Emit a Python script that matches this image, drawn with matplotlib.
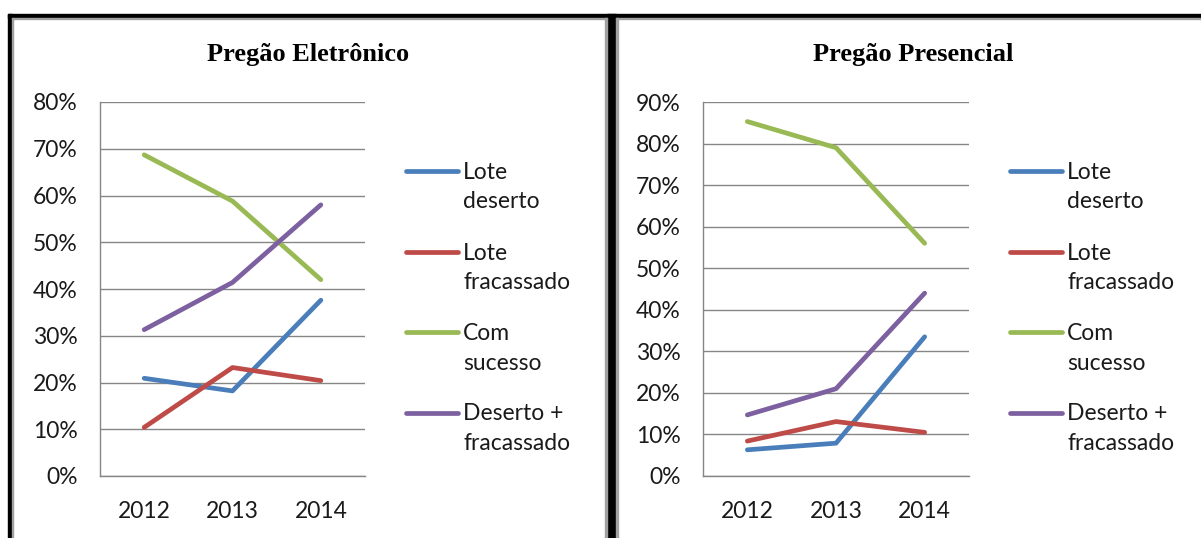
import numpy as np
import matplotlib.pyplot as plt
from matplotlib.patches import Rectangle
from matplotlib.ticker import FuncFormatter, MultipleLocator


years = ['2012', '2013', '2014']
series_names = ['Lote\ndeserto', 'Lote\nfracassado', 'Com\nsucesso', 'Deserto +\nfracassado']
colors = ['#4A7EBB', '#BE4B48', '#98B954', '#7D60A0']

# Pregao Eletronico (fractions)
ele_deserto = [0.209, 0.182, 0.376]
ele_fracassado = [0.104, 0.232, 0.204]
ele_sucesso = [0.687, 0.588, 0.420]
ele_soma = [0.313, 0.414, 0.580]

# Pregao Presencial
pre_deserto = [0.063, 0.079, 0.335]
pre_fracassado = [0.084, 0.131, 0.105]
pre_sucesso = [0.853, 0.790, 0.560]
pre_soma = [0.147, 0.210, 0.440]

W, H = 1201, 538
fig = plt.figure(figsize=(W/100, H/100), dpi=100)

tick_font = 'Lato'
fs = 16.5
grid_col = '#868686'


def fx(px):
    return px / W


def fy(py):
    return 1 - py / H


def panel(x0, x1, title, title_x, ymax, data, leg_x):
    ax = fig.add_axes([fx(x0), fy(476), fx(x1 - x0), fy(102) - fy(476)])
    xs = np.arange(len(years))
    for vals, c in zip(data, colors):
        ax.plot(xs, vals, color=c, lw=3.4, solid_capstyle='round', solid_joinstyle='round')
    ax.set_xlim(-0.5, len(years) - 0.5)
    ax.set_ylim(0, ymax)
    ax.yaxis.set_major_locator(MultipleLocator(0.1))
    ax.yaxis.set_major_formatter(FuncFormatter(lambda v, p: '%d%%' % round(v * 100)))
    ax.set_xticks(xs)
    ax.set_xticklabels(years)
    ax.grid(axis='y', color=grid_col, lw=1.0)
    ax.set_axisbelow(True)
    for s in ['top', 'right']:
        ax.spines[s].set_visible(False)
    for s in ['left', 'bottom']:
        ax.spines[s].set_color(grid_col)
        ax.spines[s].set_linewidth(1.0)
    ax.tick_params(axis='both', length=0, labelsize=fs, colors='#000000')
    ax.tick_params(axis='y', pad=16)
    ax.tick_params(axis='x', pad=18)
    for lab in ax.get_xticklabels() + ax.get_yticklabels():
        lab.set_fontfamily(tick_font)
        lab.set_color('#1a1a1a')
    fig.text(fx(title_x), fy(55), title, ha='center', va='center',
             fontsize=19, fontweight='bold', family='Liberation Serif')
    # legend, handle level with the first text line
    for i, (name, c) in enumerate(zip(series_names, colors)):
        ytop = 171 + i * 80.5
        fig.add_artist(plt.Line2D([fx(leg_x), fx(leg_x + 52)], [fy(ytop), fy(ytop)],
                                  color=c, lw=3.4, solid_capstyle='round'))
        fig.text(fx(leg_x + 57), fy(ytop - 9), name, ha='left', va='top',
                 fontsize=fs, family=tick_font, color='#1a1a1a', linespacing=1.5)
    return ax


ax1 = panel(100, 365, 'Pregão Eletrônico', 308,
            0.8, [ele_deserto, ele_fracassado, ele_sucesso, ele_soma], 406)
ax2 = panel(703, 969, 'Pregão Presencial', 913,
            0.9, [pre_deserto, pre_fracassado, pre_sucesso, pre_soma], 1010)

# frames
fr = fig.add_axes([0, 0, 1, 1], zorder=-1)
fr.set_xlim(0, W)
fr.set_ylim(H, 0)
fr.axis('off')
fr.add_patch(Rectangle((8, 14), W - 8, 4, color='black'))
fr.add_patch(Rectangle((8, 14), 4, H - 14, color='black'))
fr.add_patch(Rectangle((607, 14), 9, H - 14, color='black'))
fr.add_patch(Rectangle((12, 18), 595, 1.3, color='#a0a0a0'))
fr.add_patch(Rectangle((616, 18), W - 616, 1.3, color='#a0a0a0'))
fr.add_patch(Rectangle((12, 18), 1.3, H - 18, color='#a0a0a0'))
fr.add_patch(Rectangle((605, 18), 1.6, H - 18, color='#a0a0a0'))
fr.add_patch(Rectangle((616, 18), 1.6, H - 18, color='#a0a0a0'))

fig.savefig('out.png', dpi=100)
